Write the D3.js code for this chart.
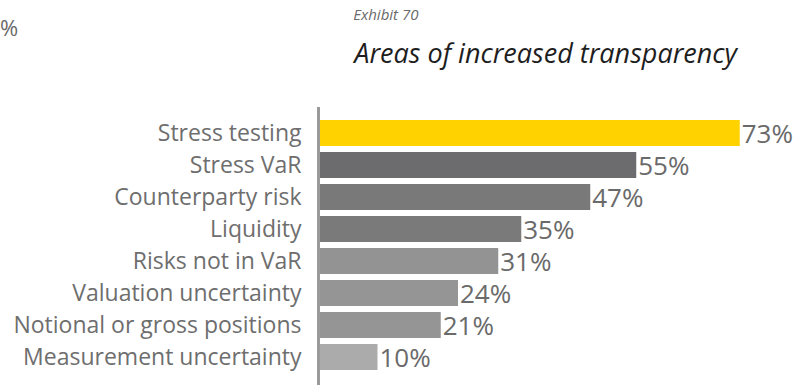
<!DOCTYPE html>
<html>
<head>
<meta charset="utf-8">
<script src="https://cdn.jsdelivr.net/npm/d3@7/dist/d3.min.js"></script>
<style>
  html, body { margin: 0; padding: 0; background: #fff; }
  svg { display: block; }
</style>
</head>
<body>
<svg id="chart" width="811" height="385"></svg>
<script>
// Areas of increased transparency (share of respondents)
const categories = [
  "Stress testing",
  "Stress VaR",
  "Counterparty risk",
  "Liquidity",
  "Risks not in VaR",
  "Valuation uncertainty",
  "Notional or gross positions",
  "Measurement uncertainty"
];
const values = [73, 55, 47, 35, 31, 24, 21, 10];
const barColors = ["#ffd200", "#6c6c6e", "#79797a", "#7a7a7b", "#939393", "#959595", "#959595", "#ababab"];
const exhibitLabel = "Exhibit 70";
const chartTitle = "Areas of increased transparency";

const svg = d3.select("#chart");
const sans = "'Open Sans', 'Noto Sans', sans-serif";

const x = d3.scaleLinear().domain([0, 100]).range([320, 895]);
const y = d3.scaleBand()
  .domain(categories)
  .range([117, 373])
  .paddingInner(0.1875)
  .paddingOuter(0.09375);

// percent sign left over from the neighbouring exhibit
svg.append("text")
  .attr("x", 0).attr("y", 36)
  .attr("font-family", sans).attr("font-size", 22)
  .attr("fill", "#6a6a6a")
  .text("%");

// titles
const title = svg.append("text")
  .attr("x", 737).attr("y", 63)
  .attr("text-anchor", "end")
  .attr("font-family", sans).attr("font-style", "italic")
  .attr("font-size", 27).attr("fill", "#1e1e1e")
  .text(chartTitle);
const titleLeft = title.node().getBBox().x;
svg.append("text")
  .attr("x", titleLeft + 1).attr("y", 20)
  .attr("font-family", sans).attr("font-style", "italic")
  .attr("font-size", 15).attr("fill", "#6a6a6a")
  .text(exhibitLabel);

// bars
const rows = categories.map((c, i) => ({ c, v: values[i], col: barColors[i] }));
svg.append("g").selectAll("rect")
  .data(rows).join("rect")
  .attr("x", x(0))
  .attr("y", d => y(d.c))
  .attr("width", d => x(d.v) - x(0))
  .attr("height", y.bandwidth())
  .attr("fill", d => d.col);

// value labels
svg.append("g").selectAll("text")
  .data(rows).join("text")
  .attr("x", d => x(d.v) + 2)
  .attr("y", d => y(d.c) + y.bandwidth() / 2 + 9.5)
  .attr("font-family", sans).attr("font-size", 26)
  .attr("fill", "#6a6a6a")
  .text(d => d.v + "%");

// category axis
const axis = svg.append("g")
  .attr("transform", `translate(${x(0) - 1.5},0)`)
  .call(d3.axisLeft(y).tickSize(0).tickPadding(17));
axis.select(".domain").remove();
axis.selectAll("text")
  .attr("font-family", sans).attr("font-size", 23)
  .attr("fill", "#6e6e6e")
  .attr("dy", "0.36em");
svg.append("line")
  .attr("x1", x(0) - 1.5).attr("x2", x(0) - 1.5)
  .attr("y1", 107).attr("y2", 385)
  .attr("stroke", "#9a9a9a").attr("stroke-width", 3);
</script>
</body>
</html>
